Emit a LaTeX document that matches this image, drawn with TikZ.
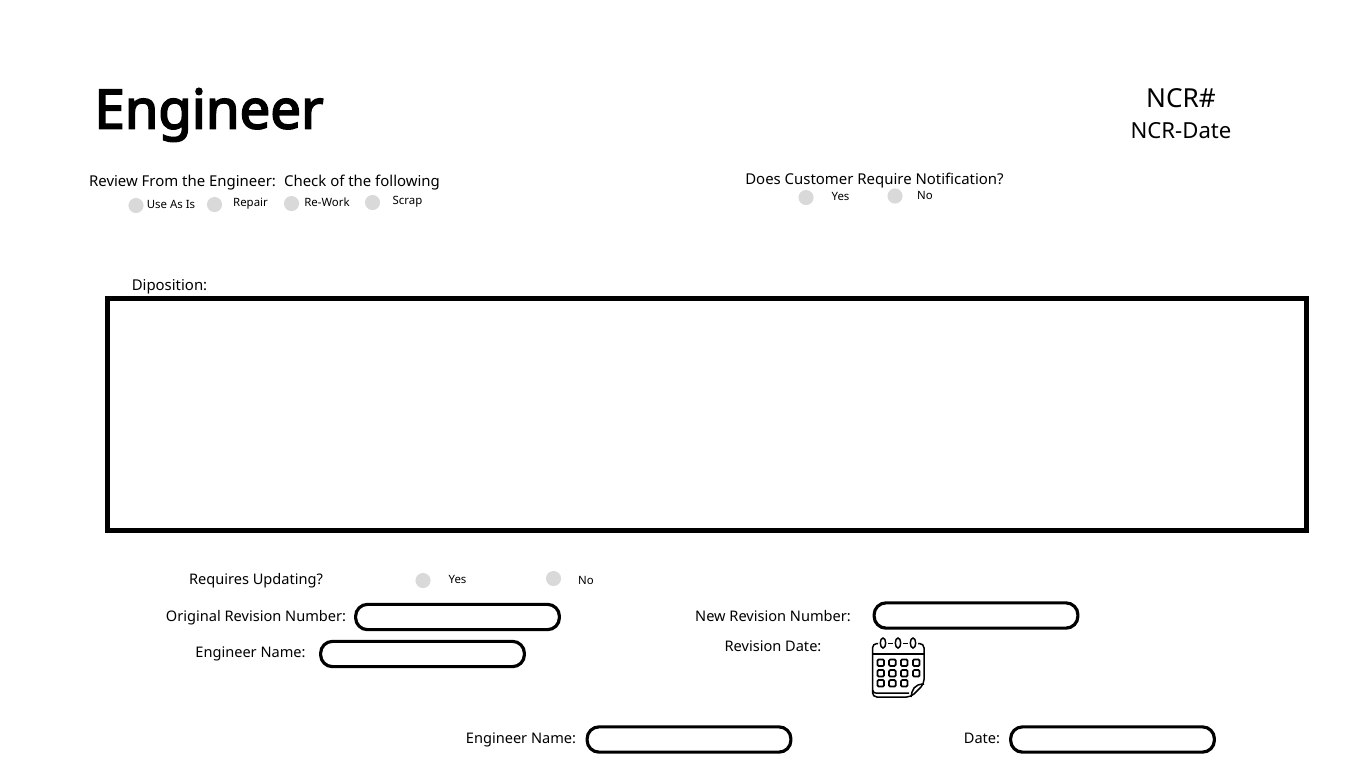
\documentclass[tikz,border=0pt]{standalone}
\usepackage{fontspec}
\setmainfont{Noto Sans}
\newfontfamily\titlefont[FakeBold=3.2]{Noto Sans}
\usetikzlibrary{positioning}
\definecolor{radiogray}{HTML}{D9D9D9}
\tikzset{
 lbl/.style={inner sep=0pt,font=\fontsize{8.5pt}{10pt}\selectfont},
 lblb/.style={inner sep=0pt,font=\fontsize{8.3pt}{10pt}\selectfont},
 opt/.style={inner sep=0pt,font=\fontsize{6.5pt}{8pt}\selectfont},
 radio/.style={circle,fill=radiogray,inner sep=0pt,minimum size=8.6pt},
 field/.style={draw=black,line width=1.8pt,rounded corners=6.8pt,minimum width=116pt,minimum height=14.4pt,inner sep=0pt},
 cal/.style={draw=black,line width=.85pt,rounded corners=1.2pt},
 calbox/.style={draw=black,line width=1pt,rounded corners=.7pt}
}
\begin{document}
\begin{tikzpicture}[x=.02cm,y=-.02cm]
 \useasboundingbox (0,0) rectangle (1366,768);
 % title
 \node (title) at (209,115) [inner sep=0pt,font=\fontsize{31pt}{36pt}\titlefont] {Engineer};
 \node (ncr) at (1181,98) [inner sep=0pt,font=\fontsize{14.9pt}{16pt}\selectfont] {NCR\#};
 \node (ncrdate) at (1181,130.5) [inner sep=0pt,font=\fontsize{12.6pt}{14pt}\selectfont] {NCR-Date};

 % review
 \node (review) at (182.5,183) [lbl] {Review From the Engineer:};
 \node (check) at (362,183) [lbl] {Check of the following};
 \node (r0) at (136,205.5) [radio] {};
 \node (r1) at (214.5,204.5) [radio] {};
 \node (r2) at (291.5,203.5) [radio] {};
 \node (r3) at (372.5,202.5) [radio] {};
 \node (l0) at (171,204.5) [opt] {Use As Is};
 \node (l1) at (250.5,204) [opt] {Repair};
 \node (l2) at (327,202.5) [opt] {Re-Work};
 \node (l3) at (407.5,202) [opt] {Scrap};

 % customer
 \node (customer) at (874.5,181) [lbl] {Does Customer Require Notification?};
 \node (c0) at (806,197.5) [radio] {};
 \node (c1) at (895,196) [radio] {};
 \node (cy) at (840.5,196.5) [opt] {Yes};
 \node (cn) at (925,195.5) [opt] {No};

 % disposition
 \node (dip) at (169.5,287) [lbl] {Diposition:};
 \node (box) at (707,414.5) [draw=black,line width=2.8pt,minimum width=682.6pt,minimum height=131.8pt,inner sep=0pt] {};

 % updating
 \node (upd) at (256,581) [lblb] {Requires Updating?};
 \node (u0) at (423,580.5) [radio] {};
 \node (u1) at (553.5,578.5) [radio] {};
 \node (uy) at (457.5,579.5) [opt] {Yes};
 \node (un) at (586,580.5) [opt] {No};

 % fields
 \node (orig) at (256,618) [lblb] {Original Revision Number:};
 \node (origf) at (457.5,617) [field] {};
 \node (newr) at (773,616) [lblb] {New Revision Number:};
 \node (newf) at (976,615.5) [field] {};
 \node (eng1) at (250.5,653.5) [lblb] {Engineer Name:};
 \node (eng1f) at (422.5,654) [field] {};
 \node (revd) at (773,646.5) [lblb] {Revision Date:};
 \node (eng2) at (521,739.5) [lblb] {Engineer Name:};
 \node (eng2f) at (689,739.5) [field] {};
 \node (date) at (982,738.5) [lblb] {Date:};
 \node (datef) at (1112.5,739.5) [field] {};

 % calendar icon
 \draw[cal,rounded corners=2.5pt] (878,643.5) -- (872.5,643.5) -- (872.5,697) -- (911,697) -- (924,684) -- (924,643.5) -- (918,643.5);
 \draw[cal] (872.5,654) -- (924,654);
 \draw[cal] (872.5,690) .. controls (873,693) and (875,693) .. (878,693) -- (909,693);
 \draw[cal] (911,697) .. controls (912,690) and (914,684) .. (924,684);
 \draw[cal] (888,643.5) -- (893,643.5) (903,643.5) -- (908,643.5);
 \foreach \x in {883,898,913} {
  \draw[cal,fill=white] (\x,643) ellipse (2.7 and 5);
 }
 \foreach \x in {880.7,892.4,904.3,916.3} {
  \foreach \y in {662.7,673.3} {
   \draw[calbox] (\x-3.3,\y-3.3) rectangle (\x+3.3,\y+3.3);
  }
 }
 \foreach \x in {880.7,892.4,904.3} {
  \draw[calbox] (\x-3.3,680) rectangle (\x+3.3,686.6);
 }
\end{tikzpicture}
\end{document}
